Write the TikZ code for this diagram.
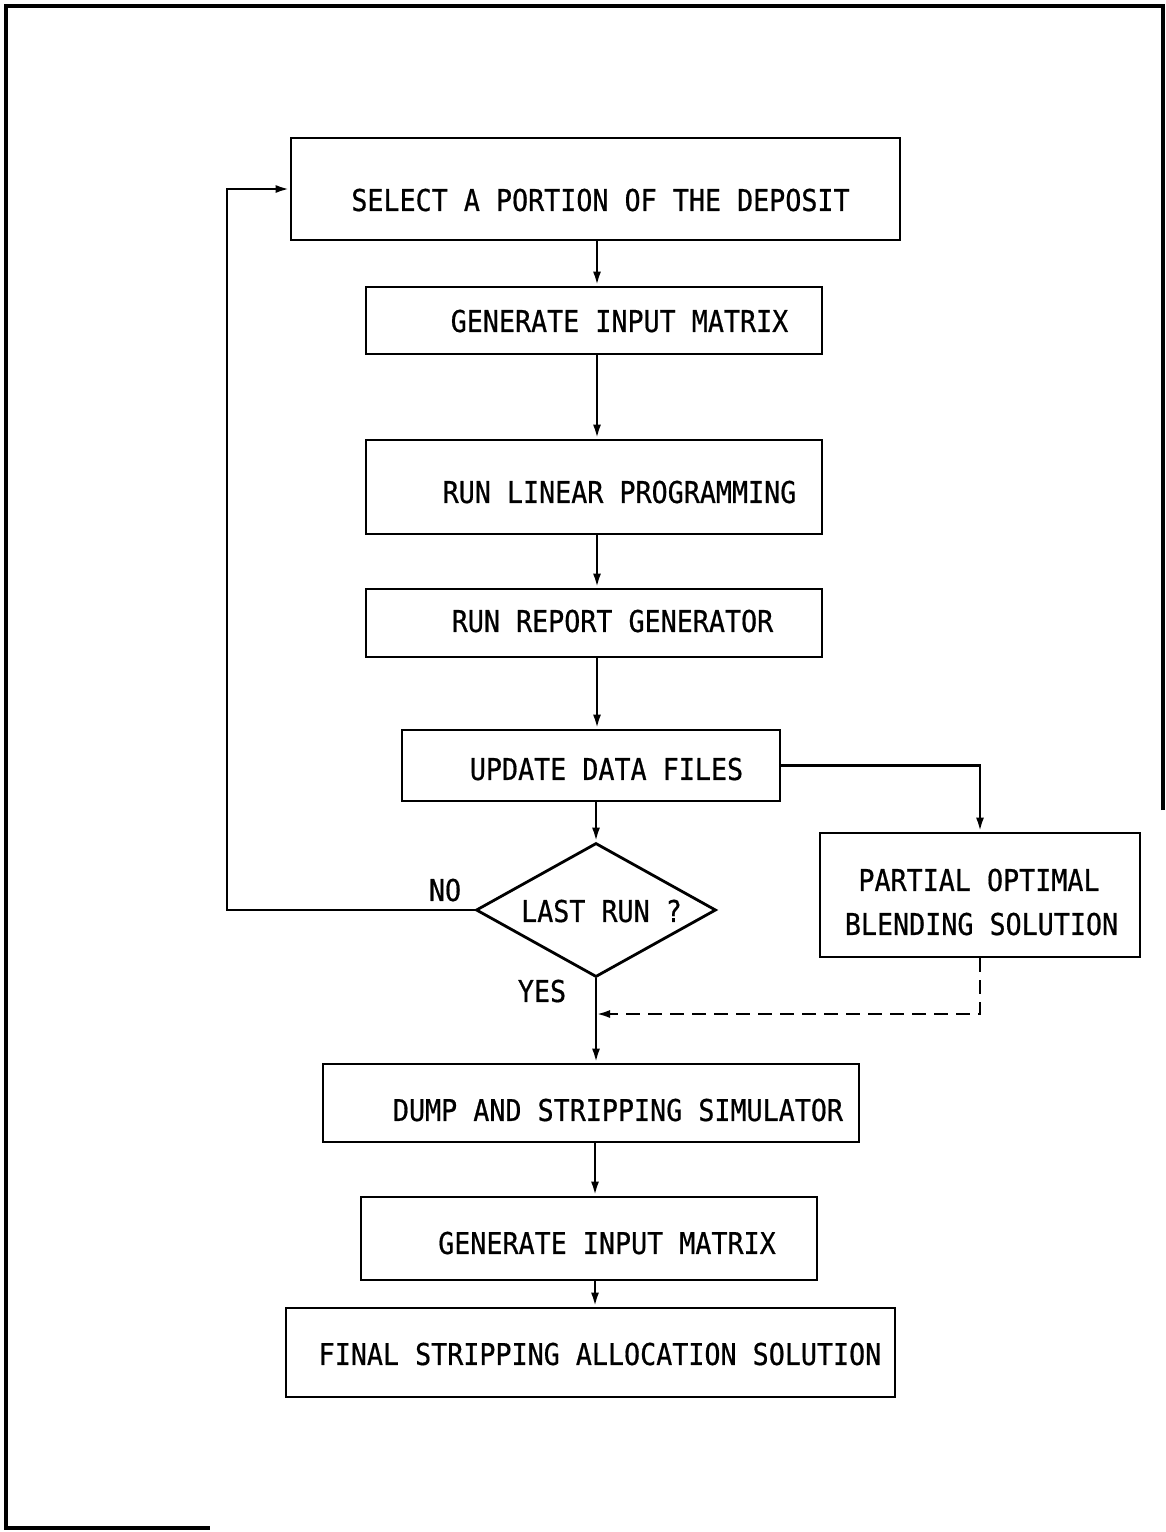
\documentclass[tikz,border=0pt]{standalone}
\usepackage{fontspec}
\newfontfamily\flowfont[FakeStretch=0.89,FakeBold=0.6]{DejaVu Sans Mono}
\usetikzlibrary{arrows.meta,shapes.geometric}
\begin{document}
\begin{tikzpicture}[x=1pt,y=-1pt,
  boxsty/.style={draw,line width=2.8pt,rectangle,inner sep=0pt},
  txt/.style={inner sep=0pt,text height=21.9pt,text depth=0pt,anchor=center,font=\flowfont\fontsize{30}{36}\selectfont},
  conn/.style={line width=2.6pt,-{Latex[length=14pt,width=8pt]}},
  framesty/.style={line width=3.2pt}]
\useasboundingbox (0,0) rectangle (1166,1532);
% frame
\coordinate (f1) at (6,6);
\coordinate (f2) at (1163,6);
\coordinate (f3) at (1163,810);
\coordinate (f4) at (6,1528);
\coordinate (f5) at (210,1528);
\draw[framesty] (f3) -- (f2) -- (f1) -- (f4) -- (f5);
% boxes
\node[boxsty,minimum width=609pt,minimum height=102pt] (sel) at (595.5,189) {};
\node[boxsty,minimum width=456pt,minimum height=67pt] (gen) at (594,320.5) {};
\node[boxsty,minimum width=456pt,minimum height=94pt] (lp) at (594,487) {};
\node[boxsty,minimum width=456pt,minimum height=68pt] (rep) at (594,623) {};
\node[boxsty,minimum width=378pt,minimum height=71pt] (upd) at (591,765.5) {};
\node[draw,line width=2.8pt,diamond,inner sep=0pt,minimum width=240pt,minimum height=134pt] (dia) at (596,910) {};
\node[boxsty,minimum width=320pt,minimum height=124pt] (pobs) at (980,895) {};
\node[boxsty,minimum width=536pt,minimum height=78pt] (dump) at (591,1103) {};
\node[boxsty,minimum width=456pt,minimum height=83pt] (gen2) at (589,1238.5) {};
\node[boxsty,minimum width=609pt,minimum height=89pt] (fin) at (590.5,1352.5) {};
% texts
\node[txt] (tsel) at (600.5,200) {SELECT A PORTION OF THE DEPOSIT};
\node[txt] (tgen) at (619.5,321) {GENERATE INPUT MATRIX};
\node[txt] (tlp) at (619.5,492) {RUN LINEAR PROGRAMMING};
\node[txt] (trep) at (612.5,621) {RUN REPORT GENERATOR};
\node[txt] (tupd) at (606.5,769) {UPDATE DATA FILES};
\node[txt] (tdia) at (601.5,911) {LAST RUN ?};
\node[txt] (tpo1) at (979,880) {PARTIAL OPTIMAL};
\node[txt] (tpo2) at (981.5,924) {BLENDING SOLUTION};
\node[txt] (tdump) at (618,1110) {DUMP AND STRIPPING SIMULATOR};
\node[txt] (tgen2) at (607,1243) {GENERATE INPUT MATRIX};
\node[txt] (tfin) at (600,1354) {FINAL STRIPPING ALLOCATION SOLUTION};
\node[txt] (tno) at (445,890) {NO};
\node[txt] (tyes) at (542,991) {YES};
% helper coordinates
\coordinate (cx) at (597,0);
\coordinate (cx2) at (595,0);
\coordinate (lx) at (227,0);
\coordinate (join) at (596,1014);
% connectors
\draw[conn] (sel.south -| cx) -- (gen.north -| cx);
\draw[conn] (gen.south -| cx) -- (lp.north -| cx);
\draw[conn] (lp.south -| cx) -- (rep.north -| cx);
\draw[conn] (rep.south -| cx) -- (upd.north -| cx);
\draw[conn] (upd.south -| dia.north) -- (dia.north);
\draw[conn] (upd.east) -| (pobs.north);
\draw[conn] (dia.west) -- (dia.west -| lx) |- (sel.west);
\draw[conn] (dia.south) -- (dump.north -| dia.south);
\draw[conn,dash pattern=on 14pt off 8pt] (pobs.south) |- (join);
\draw[conn] (dump.south -| cx2) -- (gen2.north -| cx2);
\draw[conn] (gen2.south -| cx2) -- (fin.north -| cx2);
\end{tikzpicture}
\end{document}
